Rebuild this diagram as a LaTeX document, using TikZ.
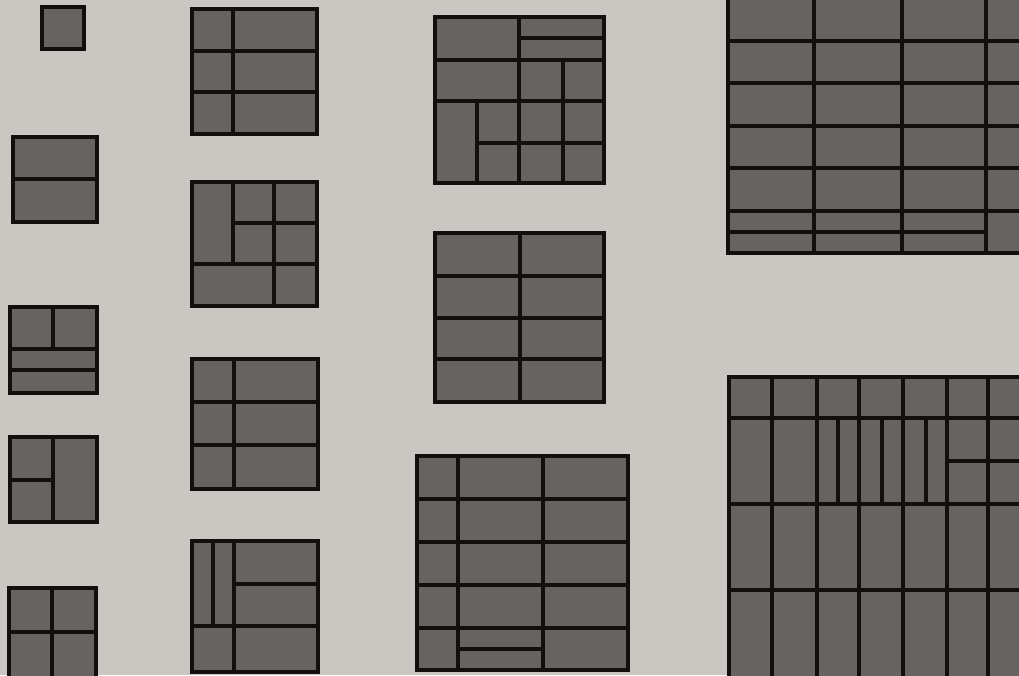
\documentclass[tikz,border=0pt]{standalone}
\usepackage{xcolor}
\usepackage{tikz}

\definecolor{paper}{RGB}{201,199,194}
\definecolor{slab}{RGB}{102,100,97}
\definecolor{ink}{RGB}{18,16,14}

\begin{document}
\begin{tikzpicture}[x=1pt,y=-1pt,line width=3.6pt,color=ink,
  tile/.style={fill=slab, draw=ink}]
  \clip (0,0) rectangle (1019,675);
  \fill[paper] (0,0) rectangle (1019,675);

  % first column, small squares
  \draw[tile] (42,7) rectangle (84,49);

  \draw[tile] (13,137) rectangle (97,222);
  \draw (13,179) -- (97,179);

  \draw[tile] (10,307) rectangle (97,393);
  \draw (53,307) -- (53,349);
  \draw (10,349) -- (97,349);
  \draw (10,370) -- (97,370);

  \draw[tile] (10,437) rectangle (97,522);
  \draw (53,437) -- (53,522);
  \draw (10,480) -- (53,480);

  \draw[tile] (9,588) rectangle (96,690);
  \draw (52,588) -- (52,690);
  \draw (9,632) -- (96,632);

  % second column
  \draw[tile] (192,9) rectangle (317,134);
  \draw (233,9) -- (233,134);
  \foreach \yy in {51,92} \draw (192,\yy) -- (317,\yy);

  \draw[tile] (192,182) rectangle (317,306);
  \draw (233,182) -- (233,264);
  \draw (274,182) -- (274,306);
  \draw (192,264) -- (317,264);
  \draw (233,223) -- (317,223);

  \draw[tile] (192,359) rectangle (318,489);
  \draw (234,359) -- (234,489);
  \foreach \yy in {402,445} \draw (192,\yy) -- (318,\yy);

  \draw[tile] (192,541) rectangle (318,672);
  \draw (234,541) -- (234,672);
  \draw (213,541) -- (213,626);
  \draw (192,626) -- (318,626);
  \draw (234,584) -- (318,584);

  % third column
  \draw[tile] (435,17) rectangle (604,183);
  \draw (519,17) -- (519,183);
  \foreach \yy in {60,101} \draw (435,\yy) -- (604,\yy);
  \draw (519,38) -- (604,38);
  \draw (477,143) -- (604,143);
  \draw (563,60) -- (563,183);
  \draw (477,101) -- (477,183);

  \draw[tile] (435,233) rectangle (604,402);
  \draw (520,233) -- (520,402);
  \foreach \yy in {276,318,359} \draw (435,\yy) -- (604,\yy);

  \draw[tile] (417,456) rectangle (628,670);
  \foreach \xx in {458,543} \draw (\xx,456) -- (\xx,670);
  \foreach \yy in {499,542,585,628} \draw (417,\yy) -- (628,\yy);
  \draw (458,649) -- (543,649);

  % fourth column, large grids cut by the page edge
  \draw[tile] (728,-2) rectangle (1030,253);
  \foreach \xx in {814,902,986} \draw (\xx,-2) -- (\xx,253);
  \foreach \yy in {41,83,126,168,211} \draw (728,\yy) -- (1030,\yy);
  \draw (728,232) -- (986,232);

  \draw[tile] (729,377) rectangle (1030,690);
  \foreach \xx in {772,817,859,903,947,988} \draw (\xx,377) -- (\xx,690);
  \foreach \yy in {418,504,590} \draw (729,\yy) -- (1030,\yy);
  \foreach \xx in {838,882,926} \draw (\xx,418) -- (\xx,504);
  \draw (947,461) -- (1030,461);
\end{tikzpicture}
\end{document}
